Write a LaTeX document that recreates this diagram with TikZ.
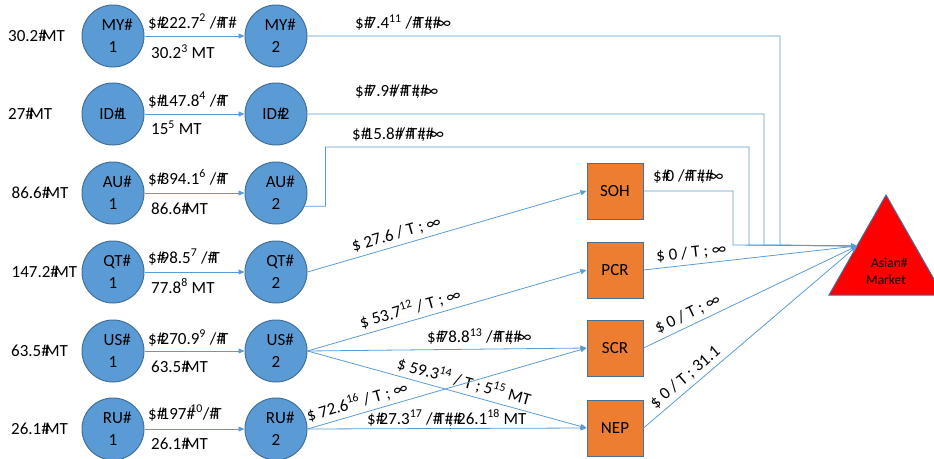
\documentclass[tikz,border=0pt]{standalone}
\usepackage{fontspec}
\setmainfont{Carlito}
\usetikzlibrary{arrows.meta}
\definecolor{cblue}{RGB}{91,155,213}
\definecolor{cborder}{RGB}{65,113,156}
\definecolor{corange}{RGB}{237,125,49}
\definecolor{lineblue}{RGB}{91,155,213}
\newcommand\hs{\makebox[0.226em][l]{\#}}
\newcommand\hz{\rlap{\#}}
\begin{document}
\begin{tikzpicture}[x=1pt,y=-1pt,
  every node/.style={font=\fontsize{17}{22}\selectfont, inner sep=0pt},
  circ/.style={circle, fill=cblue, draw=cborder, line width=1pt, minimum size=62pt, align=center},
  sq/.style={rectangle, fill=corange, draw=cborder, line width=1pt, minimum size=56pt},
  conn/.style={draw=lineblue, line width=0.8pt},
  arr/.style={conn, -{Triangle[length=6pt,width=5pt]}},
  lbl/.style={anchor=west},
  slbl/.style={sloped, above=4pt}]
\useasboundingbox (0,0) rectangle (934,458);

% triangle (market)
\draw[fill=red, draw=cborder, line width=1pt] (886,195) -- (829,295) -- (943,295) -- cycle;
\node[font=\fontsize{13.5}{17}\selectfont, align=center] (mkt) at (886,271) {Asian\hz\\Market};
\coordinate (M) at (857,246);

% left labels
\node[lbl] (s1) at (8,36) {30.2\hs MT};
\node[lbl] (s2) at (8,114) {27\hs MT};
\node[lbl] (s3) at (11.5,193) {86.6\hs MT};
\node[lbl] (s4) at (11.5,272) {147.2\hs MT};
\node[lbl] (s5) at (11,351) {63.5\hs MT};
\node[lbl] (s6) at (11,429) {26.1\hs MT};

% circles
\node[circ] (MY1) at (113,36) {MY\hz\\1};
\node[circ] (MY2) at (276,36) {MY\hz\\2};
\node[circ] (ID1) at (113,114) {ID\hs 1};
\node[circ] (ID2) at (276,114) {ID\hs 2};
\node[circ] (AU1) at (113,193) {AU\hz\\1};
\node[circ] (AU2) at (276,193) {AU\hz\\2};
\node[circ] (QT1) at (113,272) {QT\hz\\1};
\node[circ] (QT2) at (276,272) {QT\hz\\2};
\node[circ] (US1) at (113,351) {US\hz\\1};
\node[circ] (US2) at (276,351) {US\hz\\2};
\node[circ] (RU1) at (113,429) {RU\hz\\1};
\node[circ] (RU2) at (276,429) {RU\hz\\2};

% squares
\node[sq] (SOH) at (615,191) {SOH};
\node[sq] (PCR) at (615,270) {PCR};
\node[sq] (SCR) at (615,348) {SCR};
\node[sq] (NEP) at (615,428) {NEP};

% first stage arrows
\draw[arr] (MY1) -- (MY2);
\draw[arr] (ID1) -- (ID2);
\draw[arr] (AU1) -- (AU2);
\draw[arr] (QT1) -- (QT2);
\draw[arr] (US1) -- (US2);
\draw[arr] (RU1) -- (RU2);

\node[lbl] (a1) at (148,22) {\$\hs 222.7\textsuperscript{2} /\hs T\hz};
\node[lbl] (b1) at (151,52) {30.2\textsuperscript{3} MT};
\node[lbl] (a2) at (148,100) {\$\hs 147.8\textsuperscript{4} /\hs T};
\node[lbl] (b2) at (151,128) {15\textsuperscript{5} MT};
\node[lbl] (a3) at (148,178) {\$\hs 394.1\textsuperscript{6} /\hs T};
\node[lbl] (b3) at (151,209) {86.6\hs MT};
\node[lbl] (a4) at (148,257) {\$\hs 98.5\textsuperscript{7} /\hs T};
\node[lbl] (b4) at (151,286) {77.8\textsuperscript{8} MT};
\node[lbl] (a5) at (148,338) {\$\hs 270.9\textsuperscript{9} /\hs T};
\node[lbl] (b5) at (151,367) {63.5\hs MT};
\node[lbl] (a6) at (148,413) {\$\hs 197\hs\textsuperscript{10}/\hs T};
\node[lbl] (b6) at (151,444) {26.1\hs MT};

% to market, elbow connectors
\draw[arr] (MY2.east) -| (780,245) -- (M);
\draw[arr] (ID2.east) -| (764,245) -- (M);
\draw[arr] (AU2.-25) -- ++(21,0) |- (749,147) -- (749,245) -- (M);
\draw[arr] (SOH.east) -| (733,245) -- (M);

\node[lbl] (r1) at (355,23) {\$\hs 7.4\textsuperscript{11} /\hs T\hs;\hs ∞};
\node[lbl] (r2) at (355,92) {\$\hs 7.9\hs/\hs T\hs;\hs ∞};
\node[lbl] (r3) at (352,135) {\$\hs 15.8\hs/\hs T\hs;\hs ∞};
\node[lbl] (r4) at (653,177) {\$\hs 0 /\hs T\hs;\hs ∞};

% to processing
\draw[arr] (QT2.east) -- node[slbl, pos=0.33] (e1) {\$ 27.6 / T ; ∞} (SOH.west);
\draw[arr] (US2.east) -- node[slbl, pos=0.38] (e2) {\$ 53.7\textsuperscript{12} / T ; ∞} (PCR.west);
\draw[arr] (US2.east) -- (SCR.west);
\draw[arr] (US2.east) -- node[slbl, pos=0.55] (e3) {\$ 59.3\textsuperscript{14} / T ; 5\textsuperscript{15} MT} (NEP.west);
\draw[arr] (RU2.east) -- node[slbl, pos=0.19] (e4) {\$ 72.6\textsuperscript{16} / T ; ∞} (SCR.west);
\draw[arr] (RU2.east) -- (NEP.west);
\node[lbl] (r5) at (427,337) {\$\hs 78.8\textsuperscript{13} /\hs T\hs;\hs ∞};
\node[lbl] (r6) at (367,418) {\$\hs 27.3\textsuperscript{17} /\hs T\hs;\hs 26.1\textsuperscript{18} MT};

% processing to market
\draw[arr] (PCR.east) -- node[slbl, pos=0.23] (m1) {\$ 0 / T ; ∞} (M);
\draw[arr] (SCR.east) -- node[slbl, pos=0.23] (m2) {\$ 0 / T ; ∞} (M);
\draw[arr] (NEP.east) -- node[slbl, pos=0.23] (m3) {\$ 0 / T ; 31.1} (M);
\end{tikzpicture}
\end{document}
